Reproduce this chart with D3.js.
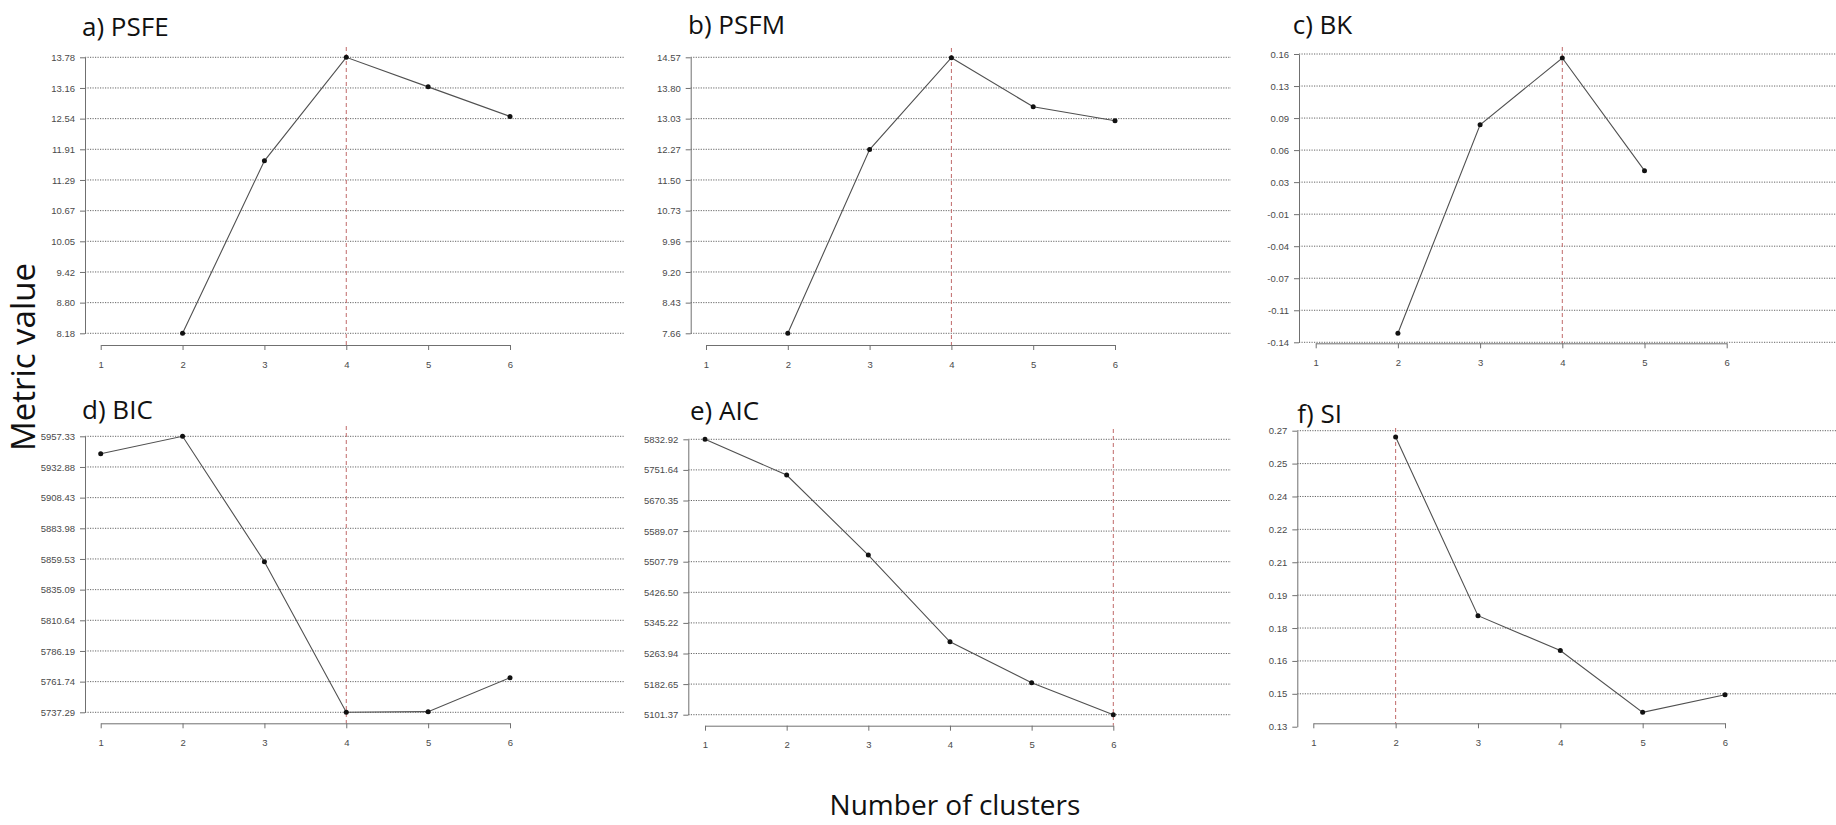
<!DOCTYPE html>
<html>
<head>
<meta charset="utf-8">
<script src="https://cdn.jsdelivr.net/npm/d3@7"></script>
<style>
  body { margin: 0; background: #fff; }
  svg { display: block; }
  .tick text { font-family: "Liberation Sans", Arial, sans-serif; font-size: 9.5px; fill: #4a4a4a; }
  .tick line, .domain { stroke: #707070; stroke-width: 1; }
</style>
</head>
<body>
<svg id="chart" width="1836" height="825"></svg>
<script>
// Number of clusters evaluated for every index
const clusters = [1, 2, 3, 4, 5, 6];

// Index values per cluster count (null = not defined for that k)
const psfe = [null, 8.18, 11.68, 13.78, 13.18, 12.58];
const psfm = [null, 7.66, 12.26, 14.56, 13.33, 12.98];
const bk   = [null, -0.1306, 0.0864, 0.1558, 0.0386, null];
const bic  = [5943.46, 5957.33, 5857.36, 5737.29, 5737.80, 5764.88];
const aic  = [5832.92, 5738.06, 5525.50, 5295.10, 5186.10, 5101.37];
const si   = [null, 0.267, 0.1825, 0.166, 0.1368, 0.1451];

// Y tick labels (evenly spaced from minimum to maximum)
const psfeTicks = ["8.18", "8.80", "9.42", "10.05", "10.67", "11.29", "11.91", "12.54", "13.16", "13.78"];
const psfmTicks = ["7.66", "8.43", "9.20", "9.96", "10.73", "11.50", "12.27", "13.03", "13.80", "14.57"];
const bkTicks   = ["-0.14", "-0.11", "-0.07", "-0.04", "-0.01", "0.03", "0.06", "0.09", "0.13", "0.16"];
const bicTicks  = ["5737.29", "5761.74", "5786.19", "5810.64", "5835.09", "5859.53", "5883.98", "5908.43", "5932.88", "5957.33"];
const aicTicks  = ["5101.37", "5182.65", "5263.94", "5345.22", "5426.50", "5507.79", "5589.07", "5670.35", "5751.64", "5832.92"];
const siTicks   = ["0.13", "0.15", "0.16", "0.18", "0.19", "0.21", "0.22", "0.24", "0.25", "0.27"];

const titles = ["a) PSFE", "b) PSFM", "c) BK", "d) BIC", "e) AIC", "f) SI"];
const bestK  = [4, 4, 4, 4, 6, 2];

const seriesList = [psfe, psfm, bk, bic, aic, si];
const tickList   = [psfeTicks, psfmTicks, bkTicks, bicTicks, aicTicks, siTicks];

// Panel geometry: y-axis position, x range, y tick range, x-axis baseline, plot top, grid end, title anchor
const frames = [
  { ax: 85,     x1: 100.7,  x6: 510,    yTop: 57.3,  yBot: 333.3, base: 345,   top: 47,  gridEnd: 625,  tx: 82,     ty: 36 },
  { ax: 690.7,  x1: 706,    x6: 1115,   yTop: 57.3,  yBot: 333.3, base: 345,   top: 48,  gridEnd: 1231, tx: 688,    ty: 33.5 },
  { ax: 1299,   x1: 1315.7, x6: 1726.7, yTop: 54,    yBot: 342.3, base: 343.3, top: 47,  gridEnd: 1836, tx: 1292.7, ty: 33.5 },
  { ax: 85,     x1: 100.7,  x6: 510,    yTop: 436.3, yBot: 712.3, base: 723.3, top: 426, gridEnd: 625,  tx: 82,     ty: 418.5 },
  { ax: 688.3,  x1: 705,    x6: 1113.3, yTop: 439.3, yBot: 714.7, base: 725.7, top: 429, gridEnd: 1231, tx: 690,    ty: 419.5 },
  { ax: 1297.3, x1: 1313.3, x6: 1725,   yTop: 430.7, yBot: 726.7, base: 723.3, top: 428, gridEnd: 1836, tx: 1297.3, ty: 423 }
];

const svg = d3.select("#chart");
svg.append("rect").attr("width", 1836).attr("height", 825).attr("fill", "#fff");

frames.forEach((f, i) => {
  const values = seriesList[i];
  const labels = tickList[i];
  const lo = +labels[0], hi = +labels[labels.length - 1];
  const tickVals = labels.map((_, k) => lo + k * (hi - lo) / (labels.length - 1));

  const x = d3.scaleLinear().domain([1, 6]).range([f.x1, f.x6]);
  const y = d3.scaleLinear().domain([lo, hi]).range([f.yBot, f.yTop]);
  const g = svg.append("g");

  // dotted horizontal reference lines at every y tick inside the plot area
  g.append("g").selectAll("line")
    .data(tickVals.filter(v => y(v) <= f.base + 0.5))
    .join("line")
      .attr("x1", f.ax).attr("x2", f.gridEnd)
      .attr("y1", d => y(d)).attr("y2", d => y(d))
      .attr("stroke", "#666")
      .attr("stroke-width", 1)
      .attr("stroke-dasharray", "1.2,1.3");

  // dashed marker for the selected number of clusters
  g.append("line")
    .attr("x1", x(bestK[i])).attr("x2", x(bestK[i]))
    .attr("y1", f.top).attr("y2", f.base)
    .attr("stroke", "#c06a6a")
    .attr("stroke-width", 1)
    .attr("stroke-dasharray", "4,3");

  const pts = clusters.map((k, j) => ({ k, v: values[j] }));

  g.append("path")
    .datum(pts)
    .attr("fill", "none")
    .attr("stroke", "#505050")
    .attr("stroke-width", 1.1)
    .attr("d", d3.line().defined(d => d.v != null).x(d => x(d.k)).y(d => y(d.v)));

  g.append("g").selectAll("circle")
    .data(pts.filter(d => d.v != null))
    .join("circle")
      .attr("cx", d => x(d.k)).attr("cy", d => y(d.v))
      .attr("r", 2.5)
      .attr("fill", "#111");

  g.append("g")
    .attr("transform", `translate(${f.ax},0)`)
    .call(d3.axisLeft(y).tickValues(tickVals).tickFormat((d, k) => labels[k])
      .tickSize(5).tickSizeOuter(0).tickPadding(5));

  g.append("g")
    .attr("transform", `translate(0,${f.base})`)
    .call(d3.axisBottom(x).tickValues(clusters).tickFormat(d3.format("d"))
      .tickSize(5).tickSizeOuter(0).tickPadding(11));

  g.append("text")
    .attr("x", f.tx).attr("y", f.ty)
    .attr("font-family", "'Open Sans', sans-serif")
    .attr("font-size", 26)
    .attr("fill", "#111")
    .text(titles[i]);
});

svg.append("text")
  .attr("transform", "translate(35,357) rotate(-90)")
  .attr("text-anchor", "middle")
  .attr("font-family", "'Open Sans', sans-serif")
  .attr("font-size", 33)
  .attr("fill", "#111")
  .text("Metric value");

svg.append("text")
  .attr("x", 955).attr("y", 815)
  .attr("text-anchor", "middle")
  .attr("font-family", "'Open Sans', sans-serif")
  .attr("font-size", 28)
  .attr("fill", "#111")
  .text("Number of clusters");
</script>
</body>
</html>
